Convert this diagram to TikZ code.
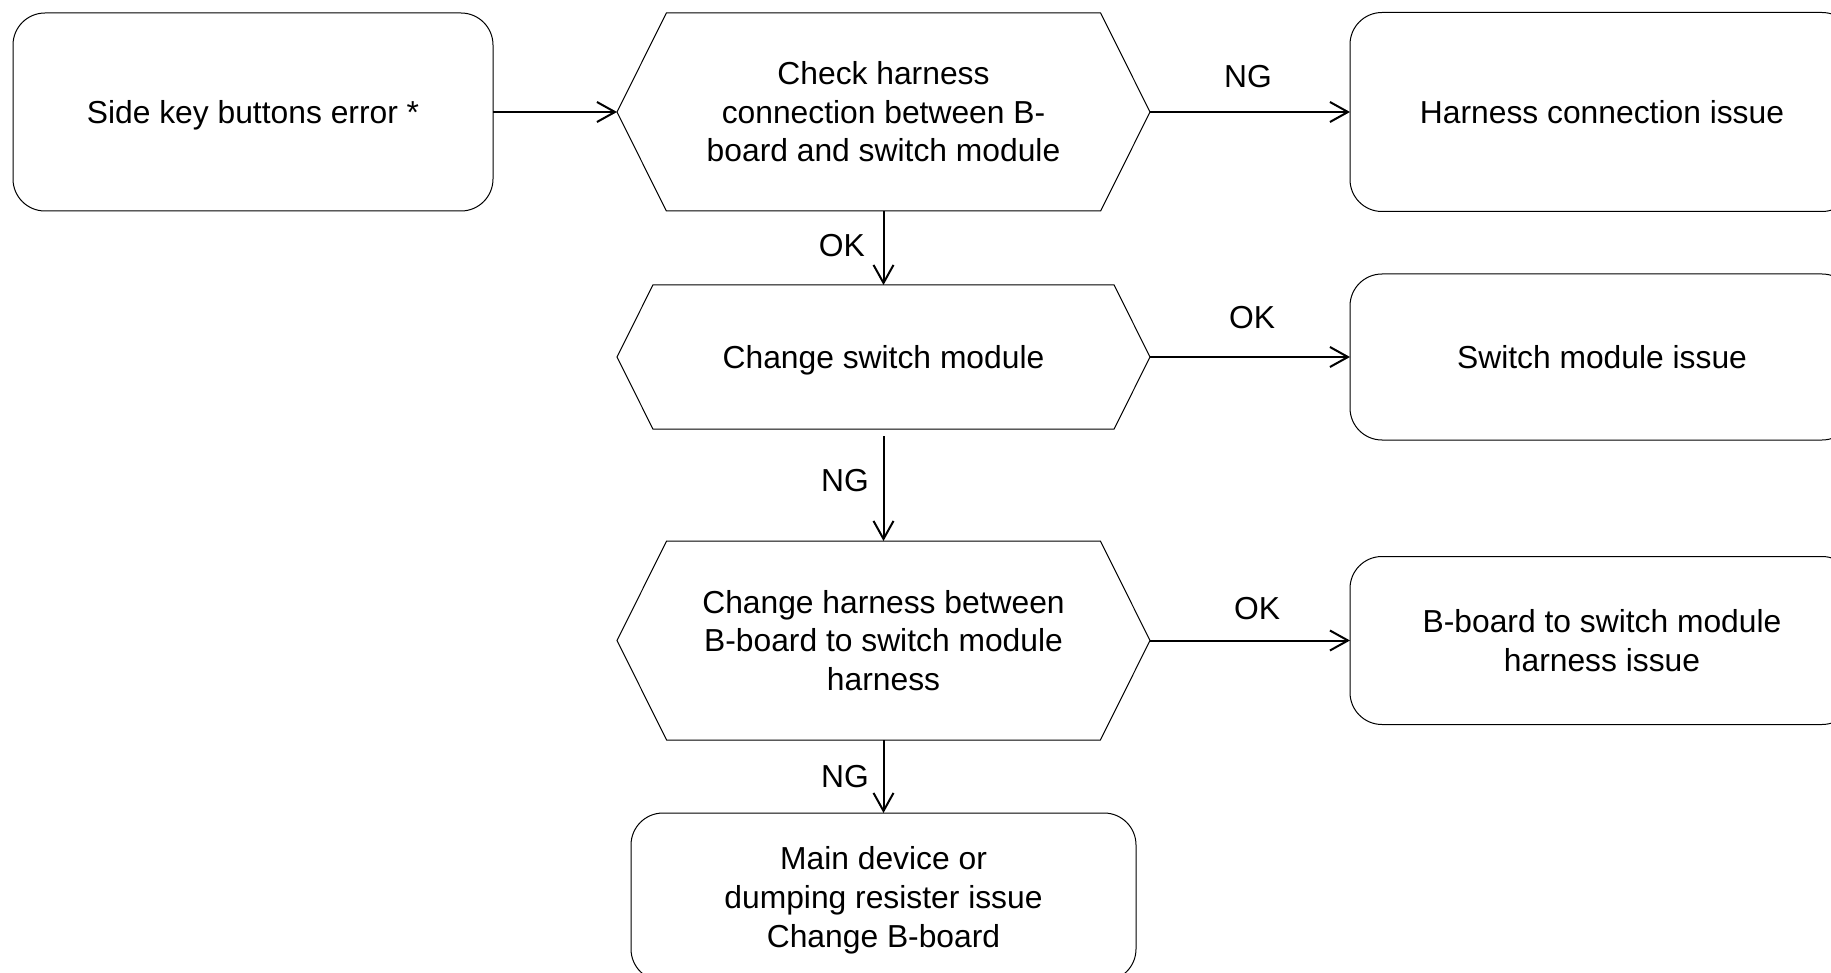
\documentclass[tikz,border=0pt]{standalone}
\usepackage{fontspec}
\setmainfont{Liberation Sans}
\usetikzlibrary{arrows.meta, positioning, shapes.symbols}

\begin{document}
\begin{tikzpicture}[
every node/.style={
font=\fontsize{15.9pt}{19.3pt}\selectfont,
align=center,
outer sep=0pt
},
box/.style={
draw,
line width=0.5pt,
rounded corners=16pt,
minimum width=240pt,
minimum height=99pt
},
hexbox/.style={
draw,
line width=0.5pt,
signal,
signal from=nowhere,
signal to=west and east,
signal pointer angle=127,
minimum width=266.5pt,
minimum height=99pt
},
arrow/.style={-{Straight Barb[length=9pt,width=10pt]}, line width=1pt},
tag/.style={font=\fontsize{15.9pt}{19.3pt}\selectfont}
]

\useasboundingbox (0,0) rectangle (915.5pt,-486.5pt);

% ------------------------
% Start and first check (top row)
% ------------------------
\node[box, text depth=0pt] (start) at (126.5pt,-56pt) {Side key buttons error *};

\node[hexbox] (check) [right=62pt of start]
{Check harness\\connection between B-\\board and switch module};

\node[box, minimum width=252pt, minimum height=99.5pt] (harness) [right=100pt of check]
{Harness connection issue};

% ------------------------
% Switch module
% ------------------------
\node[hexbox, minimum height=72pt, text depth=0pt] (switch) [below=37pt of check]
{Change switch module};

\node[box, minimum width=252pt, minimum height=83pt] (switchissue) [right=100pt of switch]
{Switch module issue};

% ------------------------
% Harness between boards
% ------------------------
\node[hexbox, minimum height=99.5pt] (cable) [below=56pt of switch]
{Change harness between\\B-board to switch module\\harness};

\node[box, minimum width=252pt, minimum height=84pt] (cableissue) [right=100pt of cable]
{B-board to switch module\\harness issue};

% ------------------------
% Final result (bottom)
% ------------------------
\node[box, minimum width=252.5pt, minimum height=84pt, text depth=0pt] (bboard) [below=36.5pt of cable]
{Main device or\\dumping resister issue\\Change B-board};

% ------------------------
% Arrows
% ------------------------
\draw[arrow] (start.east) -- (check.west);
\draw[arrow] (check.east) -- node[tag, above=8.75pt, xshift=-1pt] (ng1) {NG} (harness.west);
\draw[arrow] (check.south) -- node[tag, left=6pt, yshift=1pt] (ok1) {OK} (switch.north);
\draw[arrow] (switch.east) -- node[tag, above=11pt, xshift=1pt] (ok2) {OK} (switchissue.west);
\draw[arrow, shorten <=3.5pt] (switch.south) -- node[tag, left=4pt, yshift=2pt] (ng2) {NG} (cable.north);
\draw[arrow] (cable.east) -- node[tag, above=7pt, xshift=3.5pt] (ok3) {OK} (cableissue.west);
\draw[arrow] (cable.south) -- node[tag, left=4pt] (ng3) {NG} (bboard.north);

\end{tikzpicture}
\end{document}
